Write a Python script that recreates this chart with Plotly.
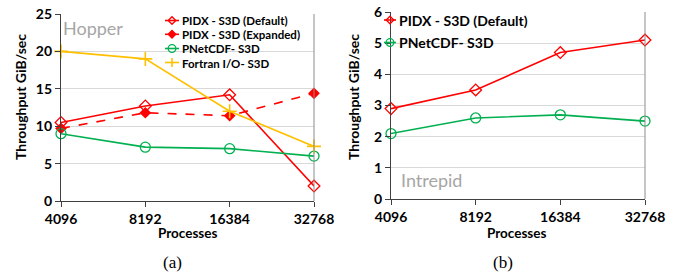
import plotly.graph_objects as go

processes = ["4096", "8192", "16384", "32768"]

# (a) Hopper
hopper_pidx_default = [10.5, 12.7, 14.2, 2.0]
hopper_pidx_expanded = [9.7, 11.8, 11.4, 14.4]
hopper_pnetcdf = [9.0, 7.2, 7.0, 6.0]
hopper_fortran = [20.0, 19.0, 12.0, 7.3]

# (b) Intrepid
intrepid_pidx_default = [2.9, 3.5, 4.7, 5.1]
intrepid_pnetcdf = [2.1, 2.6, 2.7, 2.5]

RED = "#ff0000"
GREEN = "#00b050"
GOLD = "#ffc000"
FAM = "Lato"
TICKFONT = dict(family=FAM, size=14, color="#000000", weight="bold")

W, H = 688, 274
def px(x):
    return x / W
def py(y):
    return 1 - y / H

STYLES = {
    "pidx_def": dict(color=RED, dash="solid", symbol="diamond-open"),
    "pidx_exp": dict(color=RED, dash="dash", symbol="diamond"),
    "pnetcdf": dict(color=GREEN, dash="solid", symbol="circle-open"),
    "fortran": dict(color=GOLD, dash="solid", symbol="cross-thin"),
}

def marker_for(style):
    s = STYLES[style]
    if s["symbol"] == "cross-thin":
        return dict(symbol="cross-thin", size=10, color=s["color"], line=dict(width=1.6, color=s["color"]))
    if s["symbol"] == "circle-open":
        return dict(symbol="circle-open", size=10, color=s["color"], line=dict(width=1.3))
    if s["symbol"] == "diamond-open":
        return dict(symbol="diamond-open", size=9, color=s["color"], line=dict(width=1.3))
    return dict(symbol="diamond", size=9, color=s["color"])

fig = go.Figure()

def add(xs, ys, name, style, xa, ya):
    s = STYLES[style]
    fig.add_trace(go.Scatter(x=xs, y=ys, name=name, mode="lines+markers",
                             line=dict(color=s["color"], width=1.6, dash=s["dash"]),
                             marker=marker_for(style), cliponaxis=False,
                             xaxis=xa, yaxis=ya, showlegend=False))

add(processes, hopper_pidx_default, "PIDX - S3D (Default)", "pidx_def", "x", "y")
add(processes, hopper_pidx_expanded, "PIDX - S3D (Expanded)", "pidx_exp", "x", "y")
add(processes, hopper_pnetcdf, "PNetCDF- S3D", "pnetcdf", "x", "y")
add(processes, hopper_fortran, "Fortran I/O- S3D", "fortran", "x", "y")
add(processes, intrepid_pidx_default, "PIDX - S3D (Default)", "pidx_def", "x2", "y2")
add(processes, intrepid_pnetcdf, "PNetCDF- S3D", "pnetcdf", "x2", "y2")

shapes = [
    dict(type="line", xref="x domain", yref="y domain", x0=1, x1=1, y0=0, y1=1,
         line=dict(color="#8c8c8c", width=1)),
    dict(type="line", xref="x2 domain", yref="y2 domain", x0=1, x1=1, y0=0, y1=1,
         line=dict(color="#8c8c8c", width=1)),
]
annotations = []

# custom compact legend (swatch line + symbol + label)
def legend_entry(x0, x1, y, style, text, fsize):
    s = STYLES[style]
    c = s["color"]
    shapes.append(dict(type="line", xref="paper", yref="paper", x0=px(x0), x1=px(x1), y0=py(y), y1=py(y),
                       line=dict(color=c, width=1.6)))
    cx = (x0 + x1) / 2
    r = 3.8
    if s["symbol"].startswith("diamond"):
        path = "M {},{} L {},{} L {},{} L {},{} Z".format(px(cx - r), py(y), px(cx), py(y - r),
                                                          px(cx + r), py(y), px(cx), py(y + r))
        shapes.append(dict(type="path", xref="paper", yref="paper", path=path,
                           line=dict(color=c, width=1.3),
                           fillcolor=c if s["symbol"] == "diamond" else "rgba(0,0,0,0)"))
    elif s["symbol"] == "circle-open":
        shapes.append(dict(type="circle", xref="paper", yref="paper", x0=px(cx - r), x1=px(cx + r),
                           y0=py(y + r), y1=py(y - r), line=dict(color=c, width=1.3)))
    else:
        shapes.append(dict(type="line", xref="paper", yref="paper", x0=px(cx), x1=px(cx),
                           y0=py(y + 4.5), y1=py(y - 4.5), line=dict(color=c, width=1.6)))
    annotations.append(dict(text=text, x=px(x1 + 1), y=py(y + 0.5), xref="paper", yref="paper",
                            xanchor="left", yanchor="middle", showarrow=False,
                            font=dict(family=FAM, size=fsize, color="#000", weight="bold")))

legend_entry(165, 179, 20.5, "pidx_def", "PIDX - S3D (Default)", 11.5)
legend_entry(165, 179, 34.3, "pidx_exp", "PIDX - S3D (Expanded)", 11.5)
legend_entry(165, 179, 48.5, "pnetcdf", "PNetCDF- S3D", 11.5)
legend_entry(165, 179, 62.5, "fortran", "Fortran I/O- S3D", 11.5)
legend_entry(384, 396, 20.0, "pidx_def", "PIDX - S3D (Default)", 14)
legend_entry(384, 396, 42.5, "pnetcdf", "PNetCDF- S3D", 14)

def text_ann(text, x, y, size, color="#000", family=FAM, weight="normal", angle=0, xanchor="center"):
    annotations.append(dict(text=text, x=px(x), y=py(y), xref="paper", yref="paper", xanchor=xanchor,
                            yanchor="middle", showarrow=False, textangle=angle,
                            font=dict(family=family, size=size, color=color, weight=weight)))

text_ann("Hopper", 61, 28, 18, color="#a6a6a6", xanchor="left")
text_ann("Intrepid", 399, 180, 18, color="#a6a6a6", xanchor="left")
text_ann("Processes", 188, 233, 13.5, weight="bold")
text_ann("Processes", 517, 233, 13.5, weight="bold")
text_ann("Throughput GiB/sec", 21, 97, 14, weight="bold", angle=-90)
text_ann("Throughput GiB/sec", 354, 97, 14, weight="bold", angle=-90)
text_ann("(a)", 172, 262, 17, family="Liberation Serif")
text_ann("(b)", 503, 262, 17, family="Liberation Serif")

xcommon = dict(type="category", range=[0, 3], showline=True, linecolor="#404040", linewidth=1.2,
               ticks="outside", ticklen=5, tickcolor="#404040", tickfont=TICKFONT, showgrid=False,
               zeroline=False, automargin=False, ticklabeloverflow="allow")
ycommon = dict(showline=True, linecolor="#404040", linewidth=1.2, ticks="outside", ticklen=5,
               tickcolor="#404040", tickfont=TICKFONT, showgrid=True, gridcolor="#d9d9d9", gridwidth=1,
               zeroline=False, automargin=False, ticklabeloverflow="allow")

fig.update_layout(
    width=W, height=H, margin=dict(l=0, r=0, t=0, b=0, autoexpand=False),
    paper_bgcolor="white", plot_bgcolor="white", showlegend=False,
    xaxis=dict(domain=[px(61), px(314)], anchor="y", **xcommon),
    yaxis=dict(domain=[py(201), py(14)], anchor="x", range=[0, 25], dtick=5, **ycommon),
    xaxis2=dict(domain=[px(391), px(645)], anchor="y2", **xcommon),
    yaxis2=dict(domain=[py(199), py(12)], anchor="x2", range=[0, 6], dtick=1, **ycommon),
    shapes=shapes,
    annotations=annotations,
)

# remove the default page margin so the 688x274 figure fills the window exactly
fig.write_html("out.html", config={"displayModeBar": False},
               post_script="document.body.style.margin='0px';")
